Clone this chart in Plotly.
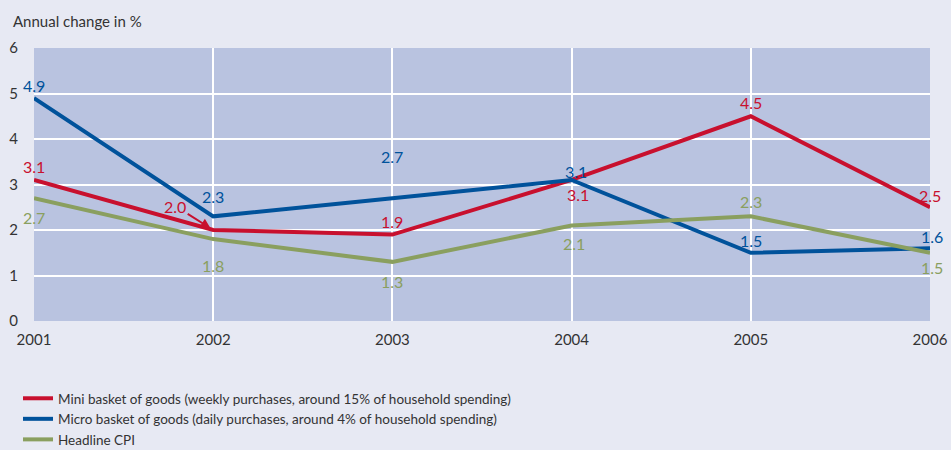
import plotly.graph_objects as go

years = [2001, 2002, 2003, 2004, 2005, 2006]
mini = [3.1, 2.0, 1.9, 3.1, 4.5, 2.5]
micro = [4.9, 2.3, 2.7, 3.1, 1.5, 1.6]
cpi = [2.7, 1.8, 1.3, 2.1, 2.3, 1.5]

names = [
    "Mini basket of goods (weekly purchases, around 15% of household spending)",
    "Micro basket of goods (daily purchases, around 4% of household spending)",
    "Headline CPI",
]
colors = ["#C8102E", "#00529B", "#8A9F5F"]
series = [mini, micro, cpi]

# label offsets in pixels (xshift, yshift) per point
offsets = [
    [(0, 13), None, (0, 13), (6, -15), (0, 14), (0, 12)],
    [(0, 13), (0, 20), (0, 42), (4, 8), (0, 12), (2, 12)],
    [(0, -19), (0, -26), (0, -20), (2, -18), (0, 15), (2, -15)],
]

FONT = "Lato"
fig = go.Figure()
for nm, col, ys in zip(names, colors, series):
    fig.add_trace(go.Scatter(x=years, y=ys, mode="lines", name=nm,
                             line=dict(color=col, width=4), cliponaxis=False))

for s, (col, ys) in enumerate(zip(colors, series)):
    for i, (x, y) in enumerate(zip(years, ys)):
        off = offsets[s][i]
        if off is None:
            fig.add_annotation(x=x, y=y, text=f"{y:.1f}", showarrow=True,
                               arrowhead=2, arrowsize=1, arrowwidth=2, arrowcolor=col,
                               ax=-38, ay=-24, standoff=3,
                               font=dict(color=col, size=16, family=FONT))
        else:
            fig.add_annotation(x=x, y=y, text=f"{y:.1f}", showarrow=False,
                               xshift=off[0], yshift=off[1],
                               font=dict(color=col, size=16, family=FONT))

fig.add_annotation(text="Annual change in %", xref="paper", yref="paper",
                   x=-0.026, y=1.0, xanchor="left", yanchor="bottom", yshift=16,
                   showarrow=False, font=dict(size=15, color="#333333", family=FONT))

fig.update_layout(
    width=951, height=450,
    margin=dict(l=34, r=21, t=48, b=129, autoexpand=False),
    paper_bgcolor="#E7E9F3",
    plot_bgcolor="#B9C3E0",
    font=dict(family=FONT, size=15, color="#333333"),
    showlegend=True,
    legend=dict(xref="container", yref="container", x=18/951, y=1-383/450,
                xanchor="left", yanchor="top", bgcolor="rgba(0,0,0,0)",
                font=dict(size=13.5, color="#333333", family=FONT),
                tracegroupgap=0, itemwidth=30),
)
fig.update_xaxes(range=[2001, 2006], tickvals=years, ticktext=[str(y) for y in years],
                 showgrid=True, gridcolor="white", gridwidth=1.5, zeroline=False,
                 showline=False, ticks="", ticklabelstandoff=8)
fig.update_yaxes(range=[0, 6], dtick=1, showgrid=True, gridcolor="white", gridwidth=1.5,
                 zeroline=False, showline=False, ticks="", ticklabelstandoff=15)

fig.write_html("out.html")
